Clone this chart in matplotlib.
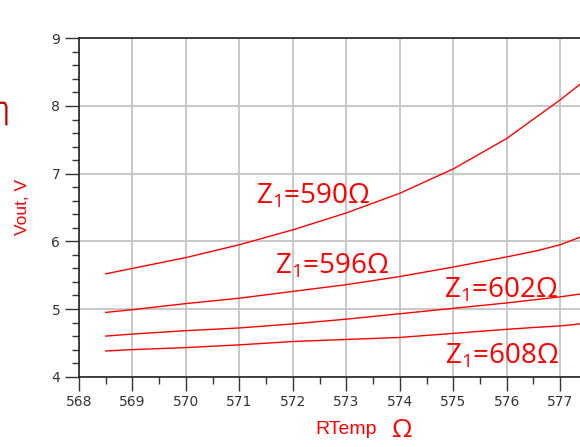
import numpy as np
import matplotlib.pyplot as plt
from matplotlib.ticker import MultipleLocator
from matplotlib.lines import Line2D

plt.rcParams['font.family'] = ['Open Sans', 'DejaVu Sans']
plt.rcParams['mathtext.fontset'] = 'custom'
plt.rcParams['mathtext.rm'] = 'Open Sans'
plt.rcParams['mathtext.it'] = 'Open Sans'

# values
rtemp = [568.5, 569, 570, 571, 572, 573, 574, 575, 576, 576.56, 577, 577.37]
v590 = [5.52, 5.60, 5.76, 5.95, 6.17, 6.42, 6.71, 7.07, 7.52, 7.84, 8.09, 8.32]
v596 = [4.95, 4.99, 5.08, 5.16, 5.26, 5.36, 5.48, 5.62, 5.77, 5.86, 5.95, 6.06]
v602 = [4.60, 4.63, 4.68, 4.72, 4.78, 4.85, 4.93, 5.01, 5.09, 5.14, 5.18, 5.22]
v608 = [4.38, 4.40, 4.43, 4.47, 4.52, 4.55, 4.58, 4.64, 4.70, 4.73, 4.75, 4.78]

labels = ['590', '596', '602', '608']
label_pos = [(571.31, 6.56), (571.67, 5.53), (574.82, 5.17), (574.85, 4.19)]

fig = plt.figure(figsize=(5.8, 4.47), dpi=100)
ax = fig.add_axes([0.1362, 0.1573, 0.8638, 0.757])

for v in (v590, v596, v602, v608):
    ax.plot(rtemp, v, color='red', lw=1.0)

for name, (x, y) in zip(labels, label_pos):
    ax.text(x, y, r'Z$_1$=' + name + 'Ω', color='red', fontsize=20,
            ha='left', va='baseline')

ax.set_xlim(568, 577.37)
ax.set_ylim(4, 9)
ax.xaxis.set_major_locator(MultipleLocator(1))
ax.xaxis.set_minor_locator(MultipleLocator(0.5))
ax.yaxis.set_major_locator(MultipleLocator(1))
ax.yaxis.set_minor_locator(MultipleLocator(0.2))
ax.grid(True, which='major', color='#c4c4c4', lw=1.3)
ax.set_axisbelow(True)

ax.tick_params(which='major', direction='out', length=10, width=1,
               labelsize=10, labelcolor='#333333', color='#333333')
ax.tick_params(which='minor', direction='out', length=5, width=1, color='#333333')
for lab in ax.get_xticklabels() + ax.get_yticklabels():
    lab.set_family('DejaVu Sans')
ax.spines['right'].set_visible(False)
for s in ('left', 'top', 'bottom'):
    ax.spines[s].set_color('#222222')
    ax.spines[s].set_linewidth(1.2)

fig.text(0.038, 0.537, 'Vout, V', color='red', rotation=90, fontsize=12.5,
         family='Liberation Sans', ha='center', va='center')
fig.text(0.543, 0.02, 'RTemp', color='red', fontsize=14,
         family='Liberation Sans', ha='left', va='bottom')
fig.text(0.676, 0.008, 'Ω', color='red', fontsize=19, ha='left', va='bottom')

# small red fragment at the left edge
fig.add_artist(Line2D([0.0, 0.008, 0.011, 0.011], [0.770, 0.770, 0.762, 0.722],
                      transform=fig.transFigure, color='#c00000', lw=1.6))

fig.savefig('out.png', dpi=100)
